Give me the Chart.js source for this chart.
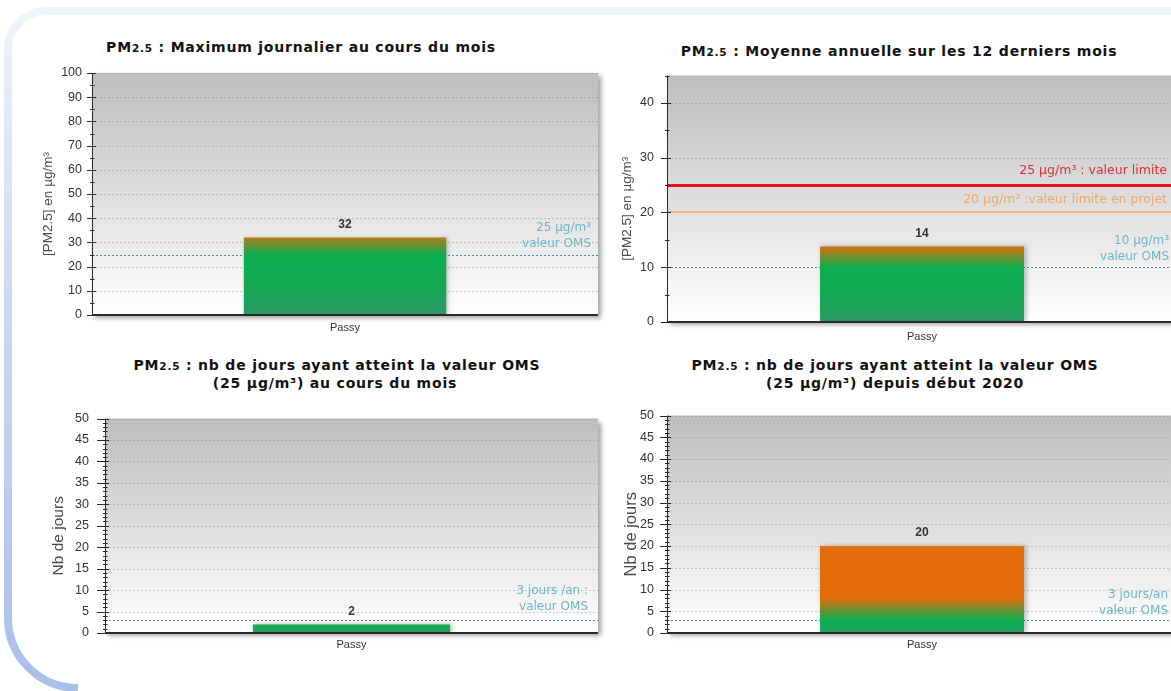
<!DOCTYPE html>
<html>
<head>
<meta charset="utf-8">
<script src="https://cdn.jsdelivr.net/npm/chart.js@4.4.0/dist/chart.umd.min.js"></script>
<style>
html,body{margin:0;padding:0;background:#fff;overflow:hidden;width:1171px;height:691px}
#page{position:absolute;left:0;top:0;width:1171px;height:691px;overflow:hidden;background:#fff}
.title{position:absolute;font-family:'DejaVu Sans',Verdana,sans-serif;font-weight:bold;font-size:14px;letter-spacing:0.8px;color:#111;white-space:nowrap;line-height:18px;transform:translateX(-50%)}
.title .sub{font-size:10.5px}
canvas{position:absolute}
svg{position:absolute;left:0;top:0}
</style>
</head>
<body>
<div id="page">
<svg width="1171" height="691">
  <defs>
    <linearGradient id="frame" x1="0" y1="0" x2="0" y2="691" gradientUnits="userSpaceOnUse">
      <stop offset="0" stop-color="#f3f5fb"/>
      <stop offset="0.15" stop-color="#e4eaf7"/>
      <stop offset="0.5" stop-color="#c8d5f0"/>
      <stop offset="1" stop-color="#a9bfe9"/>
    </linearGradient>
  </defs>
  <path d="M1180 11 H46 A38 38 0 0 0 8 49 V618 A70 70 0 0 0 78 688" fill="none" stroke="url(#frame)" stroke-width="8"/>
</svg>

<div class="title" style="left:301px;top:38px">PM<span class="sub">2.5</span> : Maximum journalier au cours du mois</div>
<div class="title" style="left:899px;top:42px">PM<span class="sub">2.5</span> : Moyenne annuelle sur les 12 derniers mois</div>
<div class="title" style="left:337px;top:356px">PM<span class="sub">2.5</span> : nb de jours ayant atteint la valeur OMS</div>
<div class="title" style="left:335px;top:374px">(25 µg/m³) au cours du mois</div>
<div class="title" style="left:895px;top:356px">PM<span class="sub">2.5</span> : nb de jours ayant atteint la valeur OMS</div>
<div class="title" style="left:895px;top:374px">(25 µg/m³) depuis début 2020</div>

<canvas id="c1"></canvas>
<canvas id="c2"></canvas>
<canvas id="c3"></canvas>
<canvas id="c4"></canvas>
</div>

<script>
// ---------- DATA ----------
const categories = ['Passy'];

const maxJournalier = [32];       // µg/m³
const moyenneAnnuelle = [13.8];   // µg/m³ (affiché 14)
const joursMois = [2];            // jours
const joursDepuis2020 = [20];     // jours

const ticksMaxJournalier = [0, 10, 20, 30, 40, 50, 60, 70, 80, 90, 100];
const ticksMoyenne = [0, 10, 20, 30, 40];
const ticksJours = [0, 5, 10, 15, 20, 25, 30, 35, 40, 45, 50];

const seuilMaxJournalier = [25];
const seuilsMoyenne = [25, 20, 10];
const seuilJoursMois = [3];
const seuilJours2020 = [3];

const texteSeuilMaxJournalier = [['25 µg/m³', 'valeur OMS']];
const texteSeuilsMoyenne = [['25 µg/m³ : valeur limite'], ['20 µg/m³ :valeur limite en projet'], ['10 µg/m³', 'valeur OMS']];
const texteSeuilJoursMois = [['3 jours /an :', 'valeur OMS']];
const texteSeuilJours2020 = [['3 jours/an', 'valeur OMS']];

const yTitles = ['[PM2.5] en µg/m³', '[PM2.5] en µg/m³', 'Nb de jours', 'Nb de jours'];

// ---------- STYLES ----------
const seuilStyles = {
  oms:    {color: '#3f97b5', width: 1, dash: [2, 2], text: '#6cb4cb', font: '12px "DejaVu Sans"', gap: 16, under: true},
  limite: {color: '#e3141c', width: 3, dash: [],     text: '#d92f3a', font: '12.5px "DejaVu Sans"', gap: 16, under: false},
  projet: {color: '#f4b27e', width: 2, dash: [],     text: '#f0a868', font: '12.5px "DejaVu Sans"', gap: 16, under: false}
};

function drawSeuils(chart, spec, under) {
  const {ctx, chartArea: a, scales: {y}} = chart;
  spec.seuils.forEach(s => {
    const st = seuilStyles[s.kind];
    if (st.under !== under) return;
    const py = Math.round(y.getPixelForValue(s.value)) + (st.width % 2 ? 0.5 : 0);
    ctx.save();
    ctx.strokeStyle = st.color; ctx.lineWidth = st.width; ctx.setLineDash(st.dash);
    ctx.beginPath(); ctx.moveTo(a.left, py); ctx.lineTo(a.right, py); ctx.stroke();
    ctx.restore();
  });
}
function drawSeuilTexts(chart, spec) {
  const {ctx, chartArea: a, scales: {y}} = chart;
  spec.seuils.forEach(s => {
    const st = seuilStyles[s.kind];
    const py = y.getPixelForValue(s.value);
    ctx.save();
    ctx.fillStyle = st.text; ctx.font = st.font; ctx.textAlign = 'right'; ctx.textBaseline = 'middle';
    const n = s.lines.length;
    s.lines.forEach((t, i) => {
      ctx.fillText(t, a.right - s.inset, py - s.lift - (n - 1 - i) * st.gap);
    });
    ctx.restore();
  });
}

function makeDecor(spec) {
  return {
    id: 'decor',
    beforeDraw(chart) {
      const {ctx, chartArea: a, scales: {y}} = chart;
      ctx.save();
      ctx.shadowColor = 'rgba(0,0,0,0.38)'; ctx.shadowBlur = 5; ctx.shadowOffsetX = 3; ctx.shadowOffsetY = 3;
      const g = ctx.createLinearGradient(0, a.top, 0, a.bottom);
      g.addColorStop(0, '#bdbdbd'); g.addColorStop(1, '#ffffff');
      ctx.fillStyle = g;
      ctx.fillRect(a.left, a.top, a.right - a.left, a.bottom - a.top);
      ctx.restore();
      // dashed grid on major ticks
      ctx.save();
      ctx.lineWidth = 1; ctx.setLineDash([2, 2]); ctx.strokeStyle = 'rgba(125,125,125,0.38)';
      y.ticks.forEach(t => {
        if (t.value <= y.min) return;
        const py = Math.round(y.getPixelForValue(t.value)) + 0.5;
        ctx.beginPath(); ctx.moveTo(a.left, py); ctx.lineTo(a.right, py); ctx.stroke();
      });
      ctx.restore();
      drawSeuils(chart, spec, true);
    },
    beforeDatasetsDraw(chart) {
      const ctx = chart.ctx;
      ctx.save();
      ctx.shadowColor = 'rgba(0,0,0,0.28)'; ctx.shadowBlur = 5; ctx.shadowOffsetX = 2; ctx.shadowOffsetY = 0;
    },
    afterDatasetsDraw(chart) {
      chart.ctx.restore();
      drawSeuils(chart, spec, false);
    },
    afterDraw(chart) {
      const {ctx, chartArea: a, scales: {y}} = chart;
      // axes
      ctx.save();
      ctx.strokeStyle = '#2a2a2a'; ctx.lineWidth = 1;
      ctx.beginPath(); ctx.moveTo(a.left + 0.5, a.top); ctx.lineTo(a.left + 0.5, a.bottom); ctx.stroke();
      for (let v = y.min; v <= y.max + 1e-9; v += spec.minor) {
        const major = spec.ticks.indexOf(v) >= 0;
        const py = Math.round(y.getPixelForValue(v)) + 0.5;
        ctx.beginPath();
        ctx.moveTo(a.left - (major ? spec.tickL : 2), py);
        ctx.lineTo(a.left + (major ? 4 : 2.5), py);
        ctx.stroke();
      }
      ctx.lineWidth = 2;
      ctx.beginPath(); ctx.moveTo(a.left, a.bottom); ctx.lineTo(a.right, a.bottom); ctx.stroke();
      ctx.restore();
      // value labels
      const meta = chart.getDatasetMeta(0);
      ctx.save();
      ctx.fillStyle = '#333'; ctx.font = 'bold 12px "Liberation Sans"'; ctx.textAlign = 'center'; ctx.textBaseline = 'middle';
      meta.data.forEach((el, i) => {
        ctx.fillText(String(Math.round(spec.values[i])), el.x, el.y - 13);
      });
      ctx.restore();
      drawSeuilTexts(chart, spec);
      // y title
      ctx.save();
      ctx.fillStyle = '#4a4a4a'; ctx.font = spec.yTitleFont; ctx.textAlign = 'center'; ctx.textBaseline = 'middle';
      ctx.translate(spec.yTitleX - spec.canvas.x, (a.top + a.bottom) / 2 + 10);
      ctx.rotate(-Math.PI / 2);
      ctx.fillText(spec.yTitle, 0, 0);
      ctx.restore();
    }
  };
}

function barFill(spec) {
  return (context) => {
    const chart = context.chart;
    if (!chart.chartArea) return '#0cae4f';
    const y = chart.scales.y;
    const base = y.getPixelForValue(0);
    const thr = y.getPixelForValue(spec.gradAt);
    const end = thr - 22;
    const g = chart.ctx.createLinearGradient(0, base, 0, end);
    const t = (base - thr) / (base - end);
    g.addColorStop(0, '#2c9966');
    g.addColorStop(t * 0.5, '#13a954');
    g.addColorStop(t, '#0cae4f');
    g.addColorStop(1, '#e46c0a');
    return g;
  };
}

Chart.defaults.font.family = '"Liberation Sans", Arial, sans-serif';

function makeChart(id, spec) {
  const cv = document.getElementById(id);
  const c = spec.canvas, p = spec.plot;
  cv.width = c.w; cv.height = c.h;
  cv.style.left = c.x + 'px'; cv.style.top = c.y + 'px';
  cv.style.width = c.w + 'px'; cv.style.height = c.h + 'px';
  return new Chart(cv, {
    type: 'bar',
    data: {
      labels: categories,
      datasets: [{
        data: spec.values,
        backgroundColor: barFill(spec),
        borderWidth: 0,
        barPercentage: 0.4,
        categoryPercentage: 1
      }]
    },
    options: {
      responsive: false,
      animation: false,
      devicePixelRatio: 1,
      layout: {padding: {top: p.t - c.y, right: c.x + c.w - p.r, left: 0, bottom: 0}},
      plugins: {legend: {display: false}, tooltip: {enabled: false}, title: {display: false}},
      scales: {
        x: {
          grid: {display: false, drawTicks: false},
          border: {display: false},
          ticks: {color: '#333', font: {size: 11}, padding: spec.xPad},
          afterFit(s) { s.height = c.y + c.h - p.b; }
        },
        y: {
          min: 0, max: spec.max,
          grid: {display: false, drawTicks: false},
          border: {display: false},
          afterBuildTicks(s) { s.ticks = spec.ticks.map(v => ({value: v})); },
          ticks: {color: '#333', font: {size: 12.5}, padding: spec.tickPad},
          afterFit(s) { s.width = p.l - c.x; }
        }
      }
    },
    plugins: [makeDecor(spec)]
  });
}

const specs = [
  {
    id: 'c1', canvas: {x: 0, y: 55, w: 612, h: 295}, plot: {l: 92, t: 73, r: 598, b: 315},
    values: maxJournalier, max: 100, ticks: ticksMaxJournalier, minor: 5, tickPad: 10, tickL: 5, xPad: 6,
    gradAt: seuilMaxJournalier[0],
    seuils: [{value: seuilMaxJournalier[0], kind: 'oms', lines: texteSeuilMaxJournalier[0], lift: 10.7, inset: 7}],
    yTitle: yTitles[0], yTitleX: 48, yTitleFont: '13.5px "Liberation Sans"'
  },
  {
    id: 'c2', canvas: {x: 605, y: 55, w: 580, h: 300}, plot: {l: 667, t: 75, r: 1177, b: 322},
    values: moyenneAnnuelle, max: 45, ticks: ticksMoyenne, minor: 5, tickPad: 13, tickL: 6, xPad: 8,
    gradAt: seuilsMoyenne[2],
    seuils: [
      {value: seuilsMoyenne[0], kind: 'limite', lines: texteSeuilsMoyenne[0], lift: 14, inset: 10},
      {value: seuilsMoyenne[1], kind: 'projet', lines: texteSeuilsMoyenne[1], lift: 12.7, inset: 10},
      {value: seuilsMoyenne[2], kind: 'oms', lines: texteSeuilsMoyenne[2], lift: 10.3, inset: 8}
    ],
    yTitle: yTitles[1], yTitleX: 627, yTitleFont: '13.5px "Liberation Sans"'
  },
  {
    id: 'c3', canvas: {x: 0, y: 395, w: 612, h: 290}, plot: {l: 105, t: 410, r: 598, b: 633},
    values: joursMois, max: 50, ticks: ticksJours, minor: 1, tickPad: 16, tickL: 8, xPad: 5.5,
    gradAt: seuilJoursMois[0],
    seuils: [{value: seuilJoursMois[0], kind: 'oms', lines: texteSeuilJoursMois[0], lift: 13.3, inset: 10}],
    yTitle: yTitles[2], yTitleX: 59, yTitleFont: '15.5px "Liberation Sans"'
  },
  {
    id: 'c4', canvas: {x: 605, y: 395, w: 580, h: 290}, plot: {l: 667, t: 411, r: 1177, b: 633},
    values: joursDepuis2020, max: 50, ticks: ticksJours, minor: 1, tickPad: 13, tickL: 7, xPad: 5.5,
    gradAt: seuilJours2020[0],
    seuils: [{value: seuilJours2020[0], kind: 'oms', lines: texteSeuilJours2020[0], lift: 9, inset: 9}],
    yTitle: yTitles[3], yTitleX: 631, yTitleFont: '16.5px "Liberation Sans"'
  }
];

specs.forEach(s => makeChart(s.id, s));
</script>
</body>
</html>
